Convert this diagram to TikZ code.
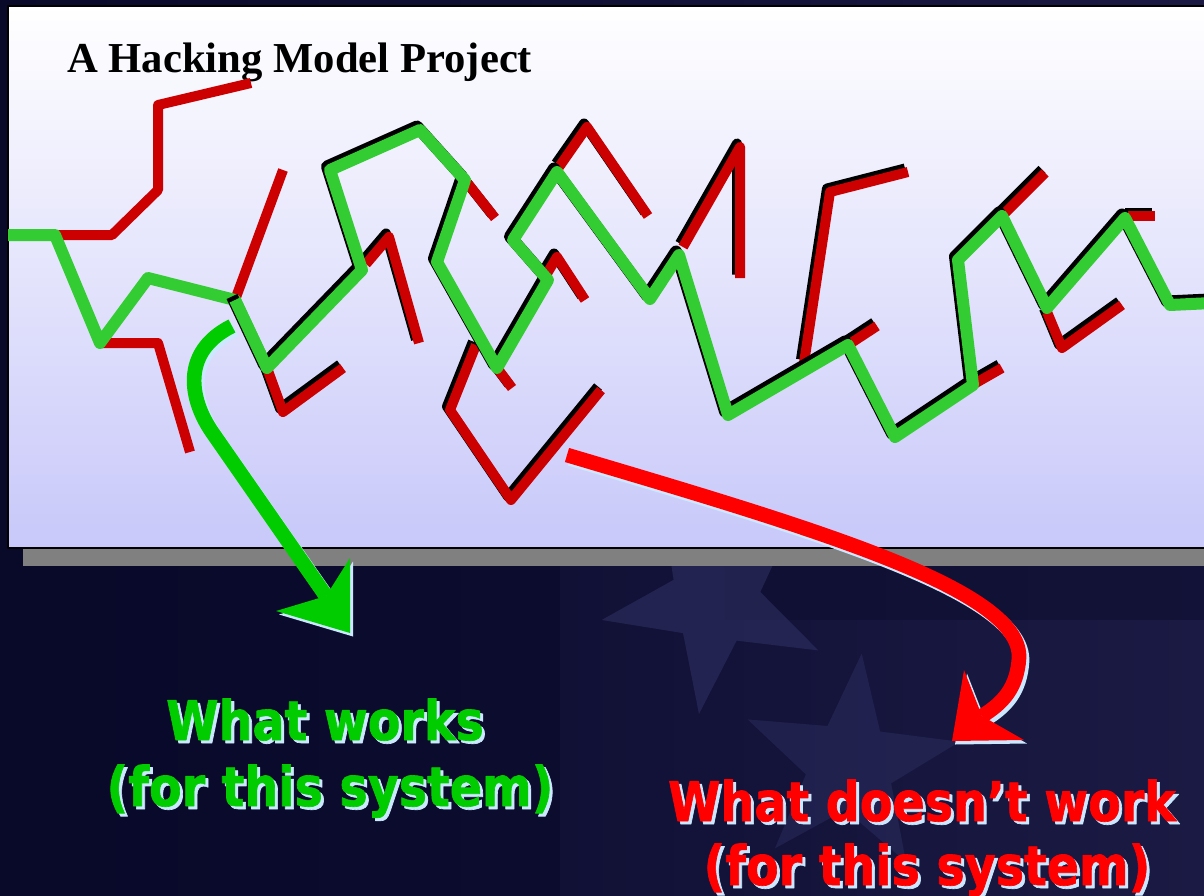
\documentclass[tikz,border=0pt]{standalone}
\usepackage{fontspec}
\newfontfamily\titlefont{Liberation Serif}
\newfontfamily\labelfont[FakeStretch=0.87,FakeBold=1.2]{DejaVu Sans}
\definecolor{bgnavy}{HTML}{09092A}
\definecolor{bgmid}{HTML}{1A1A44}
\definecolor{bgdeep}{HTML}{0E0E30}
\definecolor{starcol}{HTML}{34346A}
\definecolor{panelbot}{HTML}{C8C8FA}
\definecolor{linered}{HTML}{CC0000}
\definecolor{linegreen}{HTML}{33CC33}
\definecolor{arrowgreen}{HTML}{00CC00}
\definecolor{arrowred}{HTML}{FF0000}
\definecolor{glowblue}{HTML}{CCE8FF}
\definecolor{barshade}{HTML}{808080}
% red dead-end branches that carry a drop shadow
\newcommand\shadowedreds{%
  \draw (267,368) -- (283,412) -- (343,368);
  \draw (366,264) -- (389,237) -- (419,343);
  \draw (465,180) -- (495,218);
  \draw (497,368) -- (512,388);
  \draw (476,345) -- (450,410) -- (511,500) -- (601,390);
  \draw (543,280) -- (557,257) -- (585,300);
  \draw (559,167) -- (587,127) -- (648,216);
  \draw (683,247) -- (740,147) -- (740,278);
  \draw (804,363) -- (830,192) -- (908,172);
  \draw (848,345) -- (877,326);
  \draw (974,384) -- (1002,368);
  \draw (1003,215) -- (1045,173);
  \draw (1047,312) -- (1062,348) -- (1122,305);
  \draw (1128,216) -- (1155,216);
}
% the part of the green route that carries a drop shadow
\newcommand\shadowedgreen{%
  \draw (235,300) -- (267,368) -- (362,270) -- (330,170) -- (420,130)
  -- (465,180) -- (437,262) -- (497,368) -- (548,280) -- (513,240) -- (557,172)
  -- (650,299) -- (679,255) -- (728,415) -- (848,345) -- (895,437) -- (973,385)
  -- (958,260) -- (1002,216) -- (1047,308) -- (1125,218) -- (1170,305) -- (1212,303);
}
\newcommand\greenshaft{(gstart) .. controls (180,352) and (190,400) .. (212,432) -- (gend)}
\newcommand\redshaft{(rstart) .. controls (820,530) and (1022,590) .. (1019,658)
    .. controls (1017,688) and (1003,703) .. (rend)}
\begin{document}
\begin{tikzpicture}[x=0.75pt,y=-0.75pt,line join=round,
  redline/.style={draw=linered,line width=7.5pt},
  greenline/.style={draw=linegreen,line width=9pt},
  dropshadow/.style={transform canvas={shift={(-3,-3.5)}}},
  glowshift/.style={transform canvas={shift={(3,3.5)}}},
  labeltext/.style={font=\labelfont\bfseries\fontsize{41}{41}\selectfont,inner sep=0pt,anchor=base}]
\useasboundingbox (0,0) rectangle (1204,896);

% dark backdrop with faint stars
\shade[left color=bgnavy,right color=bgmid] (0,0) rectangle (1204,896);
\fill[bgnavy,opacity=0.5] (0,560) rectangle (560,896);
\fill[bgdeep,opacity=0.6] (725,560) rectangle (1204,620);
\fill[starcol,opacity=0.5] (715,600) +(170:115)
  \foreach \k in {1,...,9} { -- +({170+36*\k}:{ifthenelse(mod(\k,2)==1,46,115)}) } -- cycle;
\fill[starcol,opacity=0.4] (850,765) +(-84:112)
  \foreach \k in {1,...,9} { -- +({-84+36*\k}:{ifthenelse(mod(\k,2)==1,45,112)}) } -- cycle;

% slide panel and its grey ledge
\fill[barshade] (23,549) rectangle (1210,566);
\shade[top color=white,bottom color=panelbot] (8,6) rectangle (1210,548);
\draw[black,line width=1.5pt] (1210,6) -- (8,6) -- (8,548) -- (1210,548);

\node[anchor=base west,inner sep=0pt,font=\titlefont\bfseries\fontsize{32}{32}\selectfont] (title) at (67,72) {A Hacking Model Project};

% red branches (dead ends)
\draw[redline] (55,235) -- (112,235) -- (158,190) -- (158,105) -- (251,83);
\draw[redline] (100,343) -- (158,343) -- (190,452);
\draw[redline] (235,300) -- (283,170);
\begin{scope}[dropshadow,redline,draw=black] \shadowedreds \end{scope}
\begin{scope}[redline] \shadowedreds \end{scope}

% green route (the path that works)
\draw[greenline] (8,235) -- (55,235) -- (100,343) -- (148,278) -- (235,300) -- (267,368);
\begin{scope}[dropshadow,greenline,draw=black] \shadowedgreen \end{scope}
\begin{scope}[greenline] \shadowedgreen \end{scope}

% curved callout arrows
\coordinate (gstart) at (232,326);
\coordinate (gend) at (326,596);
\coordinate (rstart) at (567,455);
\coordinate (rend) at (982,716);
\begin{scope}[glowshift]
  \draw[glowblue,line width=11pt] \greenshaft;
  \fill[glowblue] (350,558) -- (350,633) -- (276,611) -- (gend) -- cycle;
  \draw[glowblue,line width=11pt] \redshaft;
  \fill[glowblue] (964,670) -- (rend) -- (1024,740) -- (952,741) -- cycle;
\end{scope}
\draw[arrowgreen,line width=11pt] \greenshaft;
\fill[arrowgreen] (350,558) -- (350,633) -- (276,611) -- (gend) -- cycle;
\draw[arrowred,line width=11pt] \redshaft;
\fill[arrowred] (964,670) -- (rend) -- (1024,740) -- (952,741) -- cycle;

% captions
\node[labeltext,text=glowblue] (worksa) at (328,743) {What works};
\node[labeltext,text=arrowgreen] (worksb) at (325,740) {What works};
\node[labeltext,text=glowblue] (worksc) at (333,809) {(for this system)};
\node[labeltext,text=arrowgreen] (worksd) at (330,806) {(for this system)};
\node[labeltext,text=glowblue] (failsa) at (925,824) {What doesn’t work};
\node[labeltext,text=arrowred] (failsb) at (922,821) {What doesn’t work};
\node[labeltext,text=glowblue] (failsc) at (930,888) {(for this system)};
\node[labeltext,text=arrowred] (failsd) at (927,885) {(for this system)};
\end{tikzpicture}
\end{document}
